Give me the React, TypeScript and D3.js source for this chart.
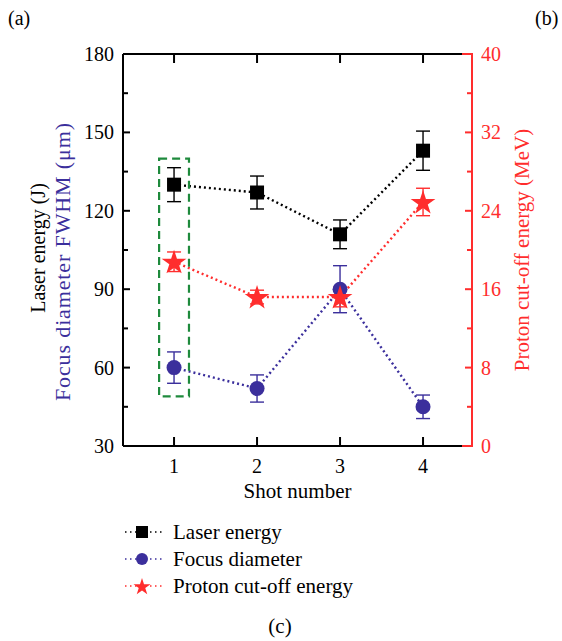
import * as d3 from "d3";

const shots = [1, 2, 3, 4];
const laserEnergy = [130, 127, 111, 143];
const laserErr = [6.5, 6.3, 5.5, 7.5];
const focusDiameter = [60, 52, 90, 45];
const focusErr = [6, 5.2, 9, 4.5];
const protonEnergy = [18.8, 15.2, 15.2, 24.9];
const protonErr = [1, 0.7, 1, 1.4];
const leftTicks = [30, 60, 90, 120, 150, 180];
const rightTicks = [0, 8, 16, 24, 32, 40];
const legendNames = ["Laser energy", "Focus diameter", "Proton cut-off energy"];

const BLACK = "#000";
const BLUE = "#3b2f9c";
const RED = "#ff2d2d";
const GREEN = "#1e8a3c";
const FONT = "'Times New Roman', 'Liberation Serif', serif";
const FS = 20; // tick labels
const TS = 21; // titles / legend

const W = 562;
const H = 641;
const margin = { top: 54, right: 90, bottom: 195, left: 123 };

export default function App() {
  const x = d3.scaleLinear().domain([0.385, 4.59]).range([margin.left, W - margin.right]);
  const yL = d3.scaleLinear().domain([30, 180]).range([H - margin.bottom, margin.top]);
  const yR = d3.scaleLinear().domain([0, 40]).range([H - margin.bottom, margin.top]);

  const line = (ys: number[], sc: d3.ScaleLinear<number, number>) =>
    d3.line<number>().x((d, i) => x(shots[i])).y((d) => sc(d))(ys) || "";

  const x0 = margin.left, x1 = W - margin.right;
  const y0 = H - margin.bottom, y1 = margin.top;
  const star = d3.symbol().type(d3.symbolStar).size(190)() || "";
  const starSmall = d3.symbol().type(d3.symbolStar).size(90)() || "";

  const errBars = (vals: number[], errs: number[], sc: d3.ScaleLinear<number, number>, color: string) =>
    vals.map((v, i) => {
      const cx = x(shots[i]);
      return (
        <g key={i} stroke={color} strokeWidth={1.4}>
          <line x1={cx} x2={cx} y1={sc(v + errs[i])} y2={sc(v - errs[i])} />
          <line x1={cx - 7} x2={cx + 7} y1={sc(v + errs[i])} y2={sc(v + errs[i])} />
          <line x1={cx - 7} x2={cx + 7} y1={sc(v - errs[i])} y2={sc(v - errs[i])} />
        </g>
      );
    });

  const minorL = d3.range(45, 180, 30);
  const minorR = d3.range(4, 40, 8);
  const legendY = [532, 559, 586];

  return (
    <svg width={W} height={H} style={{ position: "absolute", left: 0, top: 0, fontFamily: FONT }}>
      <rect width={W} height={H} fill="#fff" />
      <text x={8} y={25} fontSize={FS}>(a)</text>
      <text x={535} y={25} fontSize={FS}>(b)</text>

      {/* dotted series lines */}
      <path d={line(laserEnergy, yL)} fill="none" stroke={BLACK} strokeWidth={2.4} strokeDasharray="2 3" />
      <path d={line(focusDiameter, yL)} fill="none" stroke={BLUE} strokeWidth={2.4} strokeDasharray="2 3" />
      <path d={line(protonEnergy, yR)} fill="none" stroke={RED} strokeWidth={2.4} strokeDasharray="2 3" />

      {/* highlight box */}
      <rect x={x(0.82)} y={yL(140)} width={x(1.18) - x(0.82)} height={yL(49) - yL(140)}
        fill="none" stroke={GREEN} strokeWidth={2.2} strokeDasharray="8 5" />

      {errBars(laserEnergy, laserErr, yL, BLACK)}
      {errBars(focusDiameter, focusErr, yL, BLUE)}
      {errBars(protonEnergy, protonErr, yR, RED)}

      {laserEnergy.map((v, i) => (
        <rect key={i} x={x(shots[i]) - 7} y={yL(v) - 7} width={14} height={14} fill={BLACK} />
      ))}
      {focusDiameter.map((v, i) => (
        <circle key={i} cx={x(shots[i])} cy={yL(v)} r={7.5} fill={BLUE} />
      ))}
      {protonEnergy.map((v, i) => (
        <path key={i} d={star} transform={`translate(${x(shots[i])},${yR(v) + 1})`} fill={RED} />
      ))}

      {/* axes frame */}
      <line x1={x0} x2={x1} y1={y1} y2={y1} stroke={BLACK} strokeWidth={2} />
      <line x1={x0} x2={x1} y1={y0} y2={y0} stroke={BLACK} strokeWidth={2} />
      <line x1={x0} x2={x0} y1={y1} y2={y0} stroke={BLACK} strokeWidth={2} />
      <line x1={x1} x2={x1} y1={y1 - 1} y2={y0 + 1} stroke={RED} strokeWidth={2} />
      <line x1={x1 - 10} x2={x1} y1={y1} y2={y1} stroke={RED} strokeWidth={2} />
      <line x1={x1 - 10} x2={x1} y1={y0} y2={y0} stroke={RED} strokeWidth={2} />

      {shots.map((s) => (
        <g key={s}>
          <line x1={x(s)} x2={x(s)} y1={y0} y2={y0 - 9} stroke={BLACK} strokeWidth={2} />
          <line x1={x(s)} x2={x(s)} y1={y1} y2={y1 + 9} stroke={BLACK} strokeWidth={2} />
          <text x={x(s)} y={y0 + 27} fontSize={FS} textAnchor="middle">{s}</text>
        </g>
      ))}
      {leftTicks.map((t) => (
        <g key={t}>
          <line x1={x0} x2={x0 + 7} y1={yL(t)} y2={yL(t)} stroke={BLACK} strokeWidth={2} />
          <text x={x0 - 9} y={yL(t) + 7} fontSize={FS} textAnchor="end">{t}</text>
        </g>
      ))}
      {minorL.map((t) => (
        <line key={t} x1={x0} x2={x0 + 5} y1={yL(t)} y2={yL(t)} stroke={BLACK} strokeWidth={2} />
      ))}
      {rightTicks.map((t) => (
        <g key={t}>
          <line x1={x1} x2={x1 - 7} y1={yR(t)} y2={yR(t)} stroke={RED} strokeWidth={2} />
          <text x={x1 + 9} y={yR(t) + 7} fontSize={FS} fill={RED}>{t}</text>
        </g>
      ))}
      {minorR.map((t) => (
        <line key={t} x1={x1} x2={x1 - 5} y1={yR(t)} y2={yR(t)} stroke={RED} strokeWidth={2} />
      ))}

      {/* axis titles */}
      <text x={(x0 + x1) / 2} y={498} fontSize={TS} textAnchor="middle">Shot number</text>
      <text transform="translate(45,248) rotate(-90)" fontSize={20} textAnchor="middle">
        Laser energy (J)
      </text>
      <text transform="translate(70,262) rotate(-90)" fontSize={22} textAnchor="middle" fill={BLUE}
        textLength={278} lengthAdjust="spacing">
        Focus diameter FWHM (μm)
      </text>
      <text transform="translate(529,250) rotate(-90)" fontSize={TS} textAnchor="middle" fill={RED}>
        Proton cut-off energy (MeV)
      </text>

      {/* legend */}
      {legendNames.map((name, i) => {
        const color = [BLACK, BLUE, RED][i];
        const ly = legendY[i];
        return (
          <g key={name}>
            <line x1={125} x2={162} y1={ly} y2={ly} stroke={color} strokeWidth={1.6} strokeDasharray="1.5 3.5" />
            {i === 0 && <rect x={136} y={ly - 6} width={12} height={12} fill={BLACK} />}
            {i === 1 && <circle cx={142} cy={ly} r={6} fill={BLUE} />}
            {i === 2 && <path d={starSmall} transform={`translate(142,${ly + 1})`} fill={RED} />}
            <text x={173} y={ly + 7} fontSize={TS}>{name}</text>
          </g>
        );
      })}
      <text x={280} y={633} fontSize={TS} textAnchor="middle">(c)</text>
    </svg>
  );
}
